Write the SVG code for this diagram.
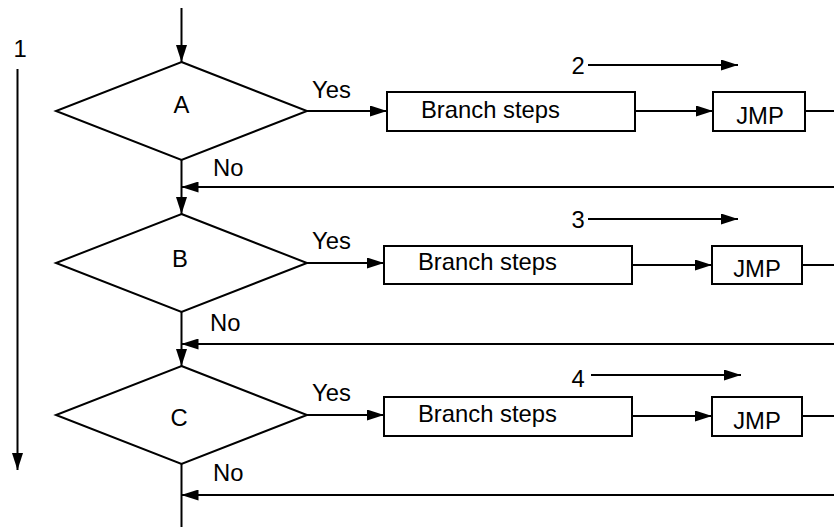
<svg xmlns="http://www.w3.org/2000/svg" width="834" height="527" viewBox="0 0 834 527">
<defs>
<marker id="ah" markerUnits="userSpaceOnUse" markerWidth="17" markerHeight="11" refX="17" refY="5.5" orient="auto">
<path d="M0,0 L17,5.5 L0,11 z" fill="#000"/>
</marker>
<style>
.ln{stroke:#000;stroke-width:2;fill:none}
.ar{stroke:#000;stroke-width:2;fill:none;marker-end:url(#ah)}
.sh{stroke:#000;stroke-width:2;fill:#fff}
text{font-family:"Liberation Sans",Arial,sans-serif;font-size:23.8px;fill:#000}
.c{text-anchor:middle}
</style>
</defs>
<rect width="834" height="527" fill="#fff"/>
<g id="connectors">
<line class="ar" x1="181.5" y1="8" x2="181.5" y2="62"/>
<line class="ar" x1="181.5" y1="160" x2="181.5" y2="214"/>
<line class="ar" x1="181.5" y1="312" x2="181.5" y2="366"/>
<line class="ln" x1="181.5" y1="464" x2="181.5" y2="527"/>
<line class="ar" x1="307" y1="111" x2="387" y2="111"/>
<line class="ar" x1="635" y1="111" x2="713" y2="111"/>
<line class="ln" x1="805" y1="111" x2="834" y2="111"/>
<line class="ar" x1="834" y1="187" x2="181.5" y2="187"/>
<line class="ar" x1="307" y1="263" x2="384" y2="263"/>
<line class="ar" x1="632" y1="265" x2="712" y2="265"/>
<line class="ln" x1="802" y1="265" x2="834" y2="265"/>
<line class="ar" x1="834" y1="344" x2="181.5" y2="344"/>
<line class="ar" x1="307" y1="415" x2="384" y2="415"/>
<line class="ar" x1="632" y1="416" x2="712" y2="416"/>
<line class="ln" x1="802" y1="416" x2="834" y2="416"/>
<line class="ar" x1="834" y1="495" x2="181.5" y2="495"/>
<line class="ar" x1="17.5" y1="69" x2="17.5" y2="470"/>
<line class="ar" x1="588" y1="65" x2="738" y2="65"/>
<line class="ar" x1="588" y1="219" x2="738" y2="219"/>
<line class="ar" x1="591" y1="375" x2="741" y2="375"/>
</g>
<g id="labels">
<text class="c" x="20" y="57">1</text>
<text class="c" x="578" y="74">2</text>
<text class="c" x="578" y="228">3</text>
<text class="c" x="578" y="387">4</text>
<text x="312" y="98">Yes</text>
<text x="213" y="176">No</text>
<text x="312" y="249">Yes</text>
<text x="210" y="331">No</text>
<text x="312" y="401">Yes</text>
<text x="213" y="481">No</text>
</g>
<g id="nodeA">
<polygon class="sh" points="181.5,62 307,111 181.5,160 56,111"/>
<text class="c" x="181.5" y="113">A</text>
</g>
<g id="branchA">
<rect class="sh" x="387" y="92" width="248" height="39"/>
<text x="421" y="118">Branch steps</text>
</g>
<g id="jmpA">
<rect class="sh" x="713" y="92" width="92" height="39"/>
<text class="c" x="760" y="124">JMP</text>
</g>
<g id="nodeB">
<polygon class="sh" points="181.5,214 307,263 181.5,312 56,263"/>
<text class="c" x="180" y="267">B</text>
</g>
<g id="branchB">
<rect class="sh" x="384" y="246" width="248" height="38"/>
<text x="418" y="270">Branch steps</text>
</g>
<g id="jmpB">
<rect class="sh" x="712" y="246" width="90" height="38"/>
<text class="c" x="757" y="277">JMP</text>
</g>
<g id="nodeC">
<polygon class="sh" points="181.5,366 307,415 181.5,464 56,415"/>
<text class="c" x="179" y="426">C</text>
</g>
<g id="branchC">
<rect class="sh" x="384" y="397" width="248" height="39"/>
<text x="418" y="422">Branch steps</text>
</g>
<g id="jmpC">
<rect class="sh" x="712" y="397" width="90" height="39"/>
<text class="c" x="757" y="429">JMP</text>
</g>
</svg>
